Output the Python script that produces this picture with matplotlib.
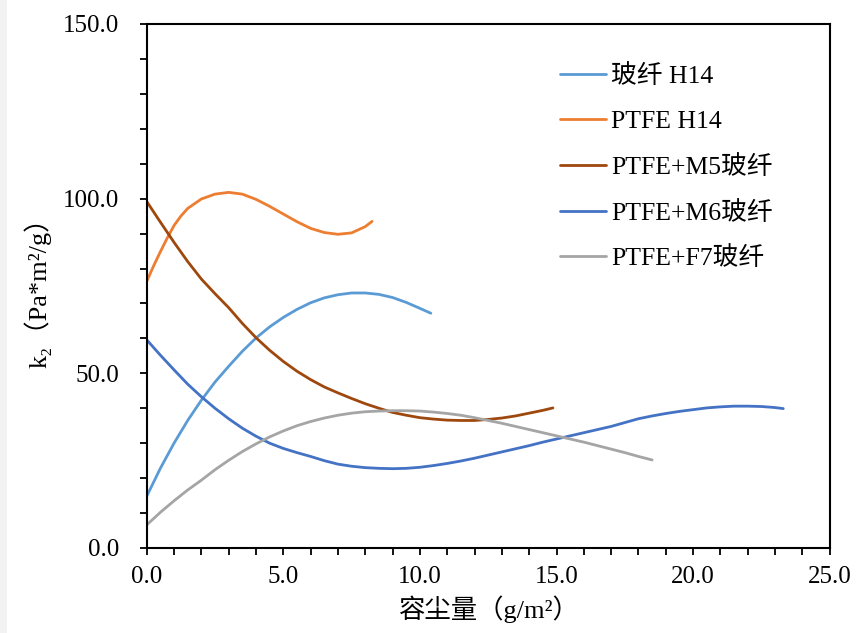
import numpy as np
import matplotlib
matplotlib.use('Agg')
from matplotlib import pyplot as plt
from matplotlib.ticker import MultipleLocator, FormatStrFormatter
from matplotlib.patches import Rectangle

# 玻纤 H14
x_gf = [0, 0.5, 1, 1.5, 2, 2.5, 3, 3.5, 4, 4.5, 5, 5.5, 6, 6.5, 7, 7.5, 8, 8.5, 9, 9.5, 10, 10.4]
y_gf = [14.8, 22.8, 30, 36.5, 42.3, 47.5, 52, 56.3, 60.1, 63.3, 66, 68.3, 70.2, 71.6, 72.5, 73,
        73, 72.6, 71.7, 70.3, 68.6, 67.2]

# PTFE H14
x_ptfe = [0, 0.25, 0.5, 0.75, 1, 1.25, 1.5, 2, 2.5, 3, 3.5, 4, 4.5, 5, 5.5, 6, 6.5, 7, 7.5, 8, 8.25]
y_ptfe = [76.3, 80.7, 84.8, 88.7, 92.3, 95, 97.2, 99.9, 101.3, 101.8, 101.3, 99.8, 97.8, 95.6,
          93.4, 91.5, 90.3, 89.8, 90.2, 92, 93.5]

# PTFE+M5玻纤
x_m5 = [0, 0.5, 1, 1.5, 2, 2.5, 3, 3.5, 4, 4.5, 5, 5.5, 6, 6.5, 7, 7.5, 8, 8.5, 9, 9.5, 10,
        10.5, 11, 11.5, 12, 12.5, 13, 13.5, 14, 14.5, 14.87]
y_m5 = [99.2, 93.3, 87.5, 82, 77, 72.8, 68.8, 64.3, 60.2, 56.6, 53.4, 50.6, 48.2, 46.1, 44.4,
        42.8, 41.3, 40, 38.8, 38, 37.3, 36.9, 36.6, 36.5, 36.5, 36.8, 37.2, 37.8, 38.6, 39.4, 40.1]

# PTFE+M6玻纤
x_m6 = [0, 0.5, 1, 1.5, 2, 2.5, 3, 3.5, 4, 4.5, 5, 5.5, 6, 6.5, 7, 7.5, 8, 8.5, 9, 9.5, 10,
        10.5, 11, 11.5, 12, 12.5, 13, 13.5, 14, 14.5, 15, 15.5, 16, 16.5, 17, 17.5, 18, 18.5,
        19, 19.5, 20, 20.5, 21, 21.5, 22, 22.5, 23, 23.3]
y_m6 = [59.6, 55.2, 51, 46.9, 43.3, 40, 37, 34.3, 32, 30, 28.5, 27.3, 26.2, 25, 24, 23.4, 23,
        22.8, 22.7, 22.8, 23.1, 23.6, 24.2, 24.9, 25.7, 26.6, 27.5, 28.4, 29.3, 30.3, 31.2, 32.1,
        33, 33.9, 34.8, 35.9, 37, 37.8, 38.5, 39.1, 39.6, 40.1, 40.4, 40.6, 40.6, 40.5, 40.2, 39.9]

# PTFE+F7玻纤
x_f7 = [0, 0.5, 1, 1.5, 2, 2.5, 3, 3.5, 4, 4.5, 5, 5.5, 6, 6.5, 7, 7.5, 8, 8.5, 9, 9.5, 10,
        10.5, 11, 11.5, 12, 12.5, 13, 13.5, 14, 14.5, 15, 15.5, 16, 16.5, 17, 17.5, 18, 18.5]
y_f7 = [6.6, 10.2, 13.5, 16.6, 19.4, 22.4, 25.1, 27.6, 29.8, 31.8, 33.5, 35, 36.2, 37.2, 38,
        38.6, 39, 39.2, 39.3, 39.3, 39.2, 38.9, 38.5, 38, 37.3, 36.5, 35.7, 34.8, 33.9, 33, 32.1,
        31.2, 30.3, 29.3, 28.3, 27.3, 26.2, 25.2]

series = [
    (x_gf, y_gf, '玻纤 H14', '#5B9BD5'),
    (x_ptfe, y_ptfe, 'PTFE H14', '#ED7D31'),
    (x_m5, y_m5, 'PTFE+M5玻纤', '#9E480E'),
    (x_m6, y_m6, 'PTFE+M6玻纤', '#4472C4'),
    (x_f7, y_f7, 'PTFE+F7玻纤', '#A5A5A5'),
]

plt.rcParams['font.family'] = ['Liberation Serif', 'Noto Sans CJK SC']
plt.rcParams['font.size'] = 18

fig = plt.figure(figsize=(8.67, 6.33), dpi=100)
fig.patches.append(Rectangle((0, 0), 7 / 867, 1, transform=fig.transFigure,
                             facecolor='#f2f2f2', edgecolor='none'))
ax = fig.add_axes([0.1692, 0.1343, 0.7878, 0.8278])

for xs, ys, lab, col in series:
    ax.plot(xs, ys, color=col, lw=2.0, label=lab, solid_capstyle='round')

ax.set_xlim(0, 25)
ax.set_ylim(0, 150)
ax.xaxis.set_major_locator(MultipleLocator(5))
ax.xaxis.set_minor_locator(MultipleLocator(1))
ax.yaxis.set_major_locator(MultipleLocator(50))
ax.yaxis.set_minor_locator(MultipleLocator(10))
ax.xaxis.set_major_formatter(FormatStrFormatter('%.1f'))
ax.yaxis.set_major_formatter(FormatStrFormatter('%.1f'))
ax.tick_params(which='both', direction='out', length=5, width=1.3, color='black')
ax.tick_params(axis='y', which='major', pad=15)
ax.tick_params(axis='x', which='major', pad=8)
for s in ax.spines.values():
    s.set_linewidth(1.5)

ax.set_xlabel('容尘量（g/m²）', labelpad=5, fontsize=19)
ax.set_ylabel('k₂（Pa*m²/g）', labelpad=8, fontsize=19)

ax.legend(loc='upper left', bbox_to_anchor=(0.605, 0.923), frameon=False, fontsize=18.5,
          handlelength=1.8, handletextpad=0.2, labelspacing=0.85,
          borderpad=0, borderaxespad=0)

plt.savefig('out.png')
